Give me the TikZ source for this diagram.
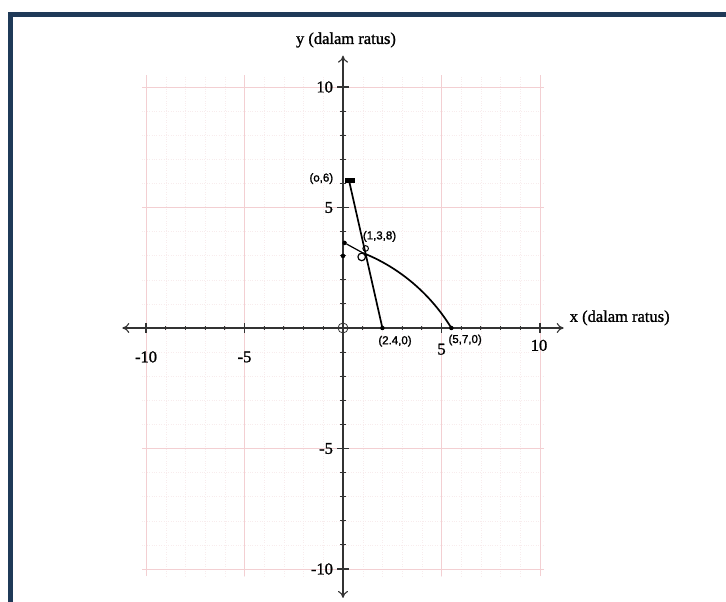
\documentclass[tikz,border=0pt]{standalone}
\usepackage{fontspec}
\setmainfont{Liberation Serif}
\newfontfamily\labfont[FakeBold=1.2]{Liberation Serif}
\newfontfamily\handfont[FakeBold=1.5]{Liberation Sans}
\usetikzlibrary{arrows.meta}
\definecolor{framenavy}{HTML}{1F3A58}
\definecolor{gridpink}{HTML}{F3CFD2}
\definecolor{gridfaint}{HTML}{F8ECED}
\definecolor{axisgray}{HTML}{333333}
\tikzset{
  axisline/.style={axisgray, line width=1.1pt, -{To[length=7pt,width=10pt]}},
  majorgrid/.style={gridpink, line width=0.7pt},
  minorgrid/.style={gridfaint, line width=0.4pt, dotted},
  ticklab/.style={font=\labfont\fontsize{16.5}{16.5}\selectfont, inner sep=1pt},
  axlab/.style={font=\labfont\fontsize{16.5}{16.5}\selectfont, inner sep=0pt},
  hand/.style={black, line width=1.7pt, line cap=round, line join=round},
  handtxt/.style={font=\handfont\fontsize{11.5}{11.5}\selectfont, inner sep=0pt},
  hdot/.style={circle, fill=black, inner sep=0pt, minimum size=4.5pt},
}
\begin{document}
\begin{tikzpicture}[x=1pt,y=1pt]
\useasboundingbox (0,0) rectangle (726,602);
\clip (0,0) rectangle (726,602);
\fill[white] (0,0) rectangle (726,602);
% frame
\draw[framenavy, line width=5.5pt] (10.5,-10) -- (10.5,587.5) -- (740,587.5);
\begin{scope}[shift={(343,274)}, x=19.7pt, y=24.1pt]
  % grid
  \foreach \i in {-9,...,9} {
    \draw[minorgrid] (\i,-10.3) -- (\i,10.5);
  }
  \foreach \j in {-10,...,10} {
    \draw[minorgrid] (-10.2,\j) -- (10.2,\j);
  }
  \foreach \i in {-10,-5,5,10} {
    \draw[majorgrid] (\i,-10.3) -- (\i,10.5);
    \draw[majorgrid] (-10.2,\i) -- (10.2,\i);
  }
  % axes
  \coordinate (xl) at (-11.2,0);
  \coordinate (xr) at (11.2,0);
  \coordinate (yb) at (0,-11.2);
  \coordinate (yt) at (0,11.3);
  \draw[axisline] (0,0) -- (xr);
  \draw[axisline] (0,0) -- (xl);
  \draw[axisline] (0,0) -- (yt);
  \draw[axisline] (0,0) -- (yb);
  % ticks
  \foreach \i in {-10,...,-1,1,2,...,10} {
    \draw[axisgray, line width=1pt] (\i,-0.09) -- (\i,0.09);
    \draw[axisgray, line width=1pt] (-0.15,\i) -- (0.15,\i);
    \fill[axisgray] (\i,0) circle (1.5pt);
    \fill[axisgray] (0,\i) circle (1.5pt);
  }
  \foreach \i in {-10,-5,5,10} {
    \draw[axisgray, line width=1.1pt] (\i,-0.2) -- (\i,0.2);
    \draw[axisgray, line width=1.1pt] (-0.3,\i) -- (0.3,\i);
  }
  \draw[axisgray, line width=0.8pt] (0,0) circle (5pt);
  % tick labels
  \node[ticklab, anchor=east] (y10) at (-0.45,10) {10};
  \node[ticklab, anchor=east] (y5) at (-0.45,5) {5};
  \node[ticklab, anchor=east] (ym5) at (-0.45,-5) {-5};
  \node[ticklab, anchor=east] (ym10) at (-0.45,-10) {-10};
  \node[ticklab] (xm10) at (-10,-1.2) {-10};
  \node[ticklab] (xm5) at (-5,-1.2) {-5};
  \node[ticklab] (x5) at (5,-0.88) {5};
  \node[ticklab] (x10) at (9.95,-0.72) {10};
  % axis labels
  \node[axlab, anchor=west] (xlab) at (11.5,0.42) {x (dalam ratus)};
  \node[axlab] (ylab) at (0.15,11.95) {y (dalam ratus)};
  % handwritten solution
  \coordinate (P6) at (0.30,6.14);
  \coordinate (A) at (2.0,0);
  \coordinate (B) at (5.5,0);
  \coordinate (I) at (1.02,3.11);
  \node[hdot] (D1) at (0.08,3.53) {};
  \node[hdot] (D2) at (0,2.99) {};
  \node[hdot] (DA) at (A) {};
  \node[hdot] (DB) at (B) {};
  \fill[black] (0.12,6.0) rectangle (0.6,6.24);
  \draw[hand] (P6) -- (A);
  \draw[hand] (I) .. controls (2.6,2.6) and (4.3,1.6) .. (B);
  \draw[hand, line width=1.2pt] (D1) -- (I);
  \draw[hand, line width=1.2pt] (0.95,2.95) circle (3.8pt);
  \draw[hand, line width=1pt] (1.15,3.3) circle (2.8pt);
  \node[handtxt] (L6) at (-1.1,6.2) {(o,6)};
  \node[handtxt, anchor=west] (L1) at (1.0,3.8) {(1,3,8)};
  \node[handtxt] (L2) at (2.64,-0.55) {(2.4,0)};
  \node[handtxt] (L3) at (6.2,-0.5) {(5,7,0)};
\end{scope}
\end{tikzpicture}
\end{document}
